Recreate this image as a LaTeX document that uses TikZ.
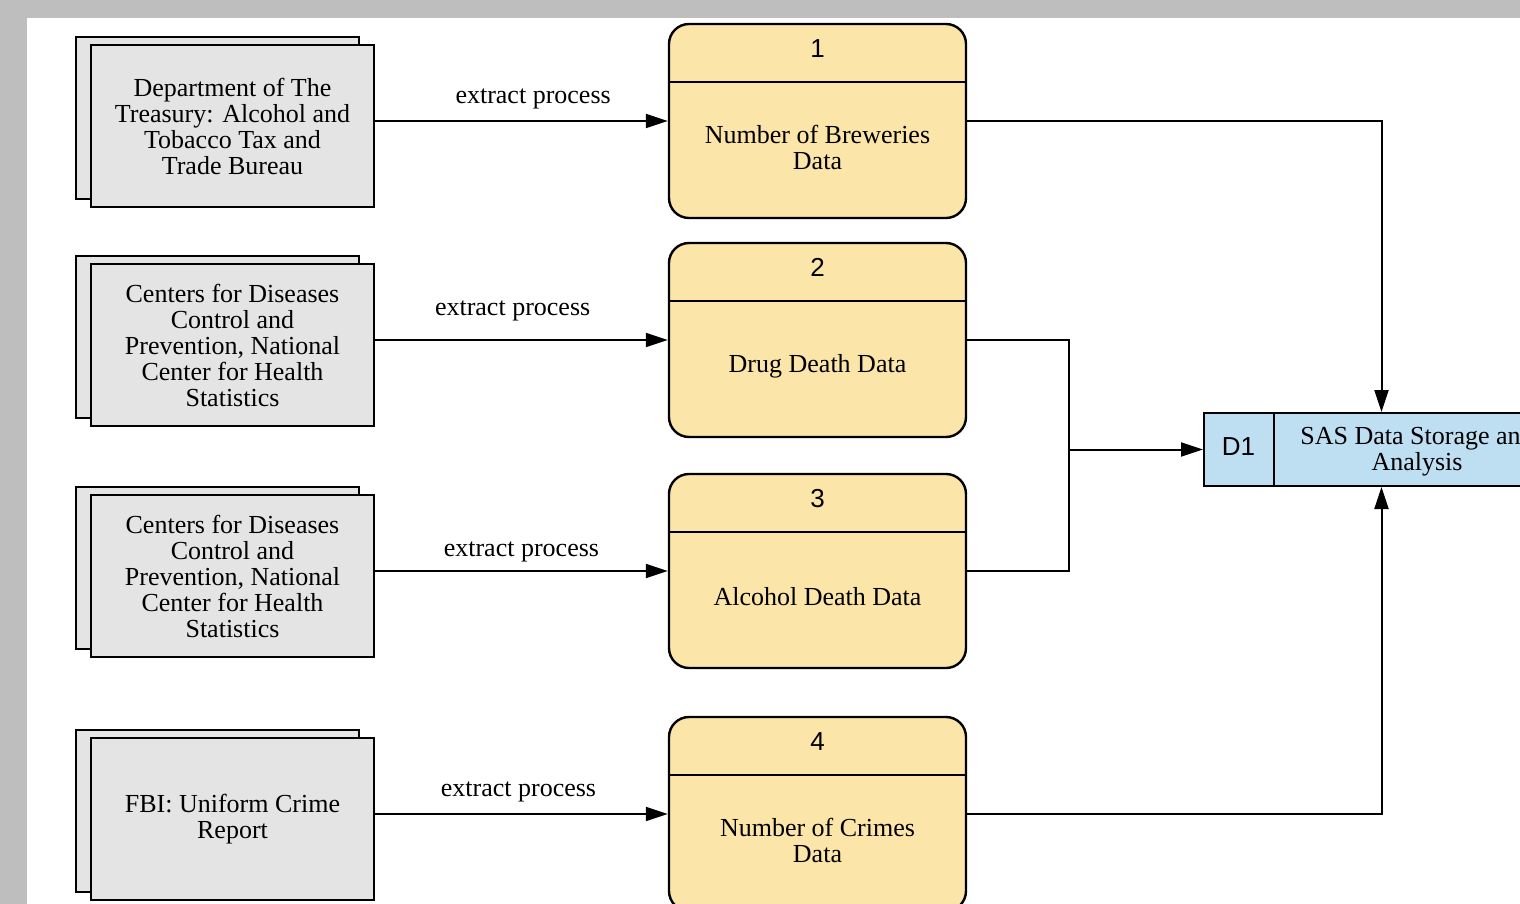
\documentclass[tikz,border=0pt]{standalone}
\usepackage{fontspec}
\setmainfont{Liberation Serif}
\newfontfamily\numfont{Liberation Sans}
\usetikzlibrary{arrows.meta,shadows}
\definecolor{procfill}{RGB}{252,229,168}
\definecolor{entfill}{RGB}{228,228,228}
\definecolor{storefill}{RGB}{190,222,242}
\definecolor{framegray}{RGB}{190,190,190}
\begin{document}
\begin{tikzpicture}[x=0.5pt,y=-0.5pt,>={Triangle[length=11pt,width=7pt]},
  every node/.style={font=\fontsize{13}{13}\selectfont,align=center},
  entity/.style={draw,line width=1pt,fill=entfill,minimum width=141.5pt,minimum height=81pt,
    copy shadow={shadow xshift=-7.5pt,shadow yshift=4pt,fill=entfill,draw=black,line width=1pt}},
  proc/.style={draw,line width=1.2pt,fill=procfill,rounded corners=10pt,minimum width=148.5pt,minimum height=97pt},
  store/.style={draw,line width=1pt,fill=storefill,minimum width=177.5pt,minimum height=36.5pt},
  num/.style={font=\numfont\fontsize{13}{13}\selectfont},
  flow/.style={line width=1pt,->}]
\useasboundingbox (0,0) rectangle (1520,904);
\clip (0,0) rectangle (1520,904);
\fill[framegray] (0,0) rectangle (1520,904);
\fill[white] (27,18) rectangle (1520,904);

\node[entity] (src1) at (232.5,126) {Department of The\\Treasury: Alcohol and\\Tobacco Tax and\\Trade Bureau};
\node[entity] (src2) at (232.5,345) {Centers for Diseases\\Control and\\Prevention, National\\Center for Health\\Statistics};
\node[entity] (src3) at (232.5,576) {Centers for Diseases\\Control and\\Prevention, National\\Center for Health\\Statistics};
\node[entity] (src4) at (232.5,819) {FBI: Uniform Crime\\Report};

\foreach \i/\y/\txt in {1/121/{Number of Breweries\\Data},2/340/{Drug Death Data},3/571/{Alcohol Death Data},4/814/{Number of Crimes\\Data}}{
  \node[proc] (p\i) at (817.5,\y) {};
  \node[num] (n\i) at ([yshift=-13pt]p\i.north) {\i};
  \draw[line width=1pt] ([yshift=-29.5pt]p\i.north west) -- ([yshift=-29.5pt]p\i.north east);
  \node (t\i) at ([yshift=-13pt]p\i.center) {\txt};
}

\node[store] (d1) at (1381.5,449.5) {};
\draw[line width=1pt] ([xshift=35.5pt]d1.north west) -- ([xshift=35.5pt]d1.south west);
\node[num] (d1id) at (1238.5,447) {D1};
\node (d1txt) at (1417,451) {SAS Data Storage and\\Analysis};

\draw[flow] (src1.east |- p1) -- node[above=2pt,pos=.54] {extract process} (p1.west);
\draw[flow] (src2.east |- p2) -- node[above=5.5pt,pos=.47] {extract process} (p2.west);
\draw[flow] (src3.east |- p3) -- node[above=0.5pt,pos=.5] {extract process} (p3.west);
\draw[flow] (src4.east |- p4) -- node[above=2pt,pos=.49] {extract process} (p4.west);

\coordinate (jn) at (1069,449.5);
\draw[flow] (p1.east) -| (d1.north);
\draw[line width=1pt] (p2.east) -| (jn) |- (p3.east);
\draw[flow] (jn) -- (d1.west);
\draw[flow] (p4.east) -| (d1.south);
\end{tikzpicture}
\end{document}
